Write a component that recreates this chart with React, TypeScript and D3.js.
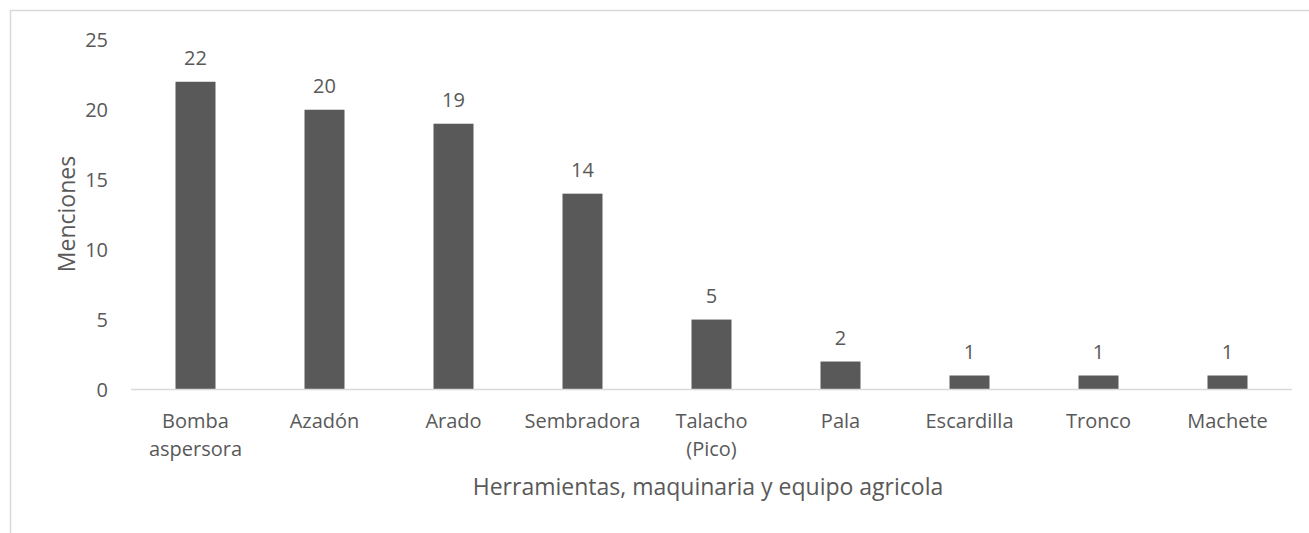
import React from "react";
import * as d3 from "d3";

const categories = [
  "Bomba aspersora",
  "Azadón",
  "Arado",
  "Sembradora",
  "Talacho (Pico)",
  "Pala",
  "Escardilla",
  "Tronco",
  "Machete",
];
const categoryLines = [
  ["Bomba", "aspersora"],
  ["Azadón"],
  ["Arado"],
  ["Sembradora"],
  ["Talacho", "(Pico)"],
  ["Pala"],
  ["Escardilla"],
  ["Tronco"],
  ["Machete"],
];
const values = [22, 20, 19, 14, 5, 2, 1, 1, 1];
const yTicks = [0, 5, 10, 15, 20, 25];
const xTitle = "Herramientas, maquinaria y equipo agricola";
const yTitle = "Menciones";

const W = 1309;
const H = 533;
const FONT = "'Open Sans', sans-serif";
const TXT = "#595959";
const LBL = 20;
const TTL = 23;

export default function App() {
  const x = d3
    .scaleBand<string>()
    .domain(categories)
    .range([131, 1292])
    .paddingInner(0.69)
    .paddingOuter(0.345);
  const y = d3.scaleLinear().domain([0, 25]).range([389.5, 39.8]);

  return (
    <svg
      width={W}
      height={H}
      style={{ position: "absolute", left: 0, top: 0, background: "#fff" }}
      fontFamily={FONT}
    >
      <rect x={10.5} y={10.5} width={1400} height={700} fill="#fff" stroke="#d9d9d9" strokeWidth={1.5} />
      {yTicks.map((t) => (
        <text key={t} x={108} y={y(t)} dy="0.35em" textAnchor="end" fontSize={LBL} fill={TXT}>
          {t}
        </text>
      ))}
      {categories.map((c, i) => (
        <rect
          key={c}
          x={x(c)!}
          y={y(values[i])}
          width={x.bandwidth()}
          height={y(0) - y(values[i])}
          fill="#595959"
        />
      ))}
      <line x1={131} x2={1292} y1={y(0)} y2={y(0)} stroke="#d9d9d9" strokeWidth={1.5} />
      {categories.map((c, i) => (
        <text
          key={"v" + c}
          x={x(c)! + x.bandwidth() / 2}
          y={y(values[i]) - 24}
          dy="0.35em"
          textAnchor="middle"
          fontSize={LBL}
          fill={TXT}
        >
          {values[i]}
        </text>
      ))}
      {categories.map((c, i) => (
        <text
          key={"c" + c}
          x={x(c)! + x.bandwidth() / 2}
          y={421}
          textAnchor="middle"
          fontSize={LBL}
          fill={TXT}
        >
          {categoryLines[i].map((l, j) => (
            <tspan key={j} x={x(c)! + x.bandwidth() / 2} dy={j === 0 ? "0.35em" : 28}>
              {l}
            </tspan>
          ))}
        </text>
      ))}
      <text x={708} y={487} dy="0.35em" textAnchor="middle" fontSize={TTL} fill={TXT}>
        {xTitle}
      </text>
      <text
        transform={`translate(67,214) rotate(-90)`}
        dy="0.35em"
        textAnchor="middle"
        fontSize={TTL}
        fill={TXT}
      >
        {yTitle}
      </text>
    </svg>
  );
}
